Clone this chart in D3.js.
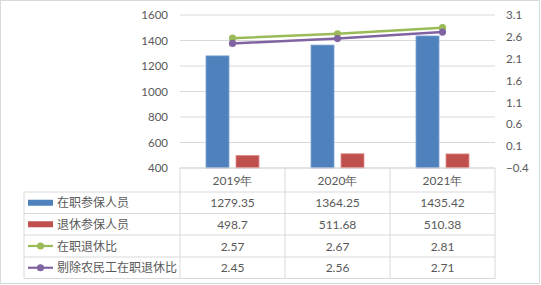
<!DOCTYPE html>
<html><head><meta charset="utf-8">
<script src="https://cdn.jsdelivr.net/npm/d3@7"></script>
<style>body{margin:0;background:#fff}svg{display:block}</style>
</head><body>
<svg id="c" width="541" height="285"></svg>
<script>
const categories = ["2019年", "2020年", "2021年"];
const seriesNames = ["在职参保人员", "退休参保人员", "在职退休比", "剔除农民工在职退休比"];
const active = [1279.35, 1364.25, 1435.42];
const retired = [498.7, 511.68, 510.38];
const ratio = [2.57, 2.67, 2.81];
const ratioExcl = [2.45, 2.56, 2.71];
const activeLabels = ["1279.35", "1364.25", "1435.42"];
const retiredLabels = ["498.7", "511.68", "510.38"];
const ratioLabels = ["2.57", "2.67", "2.81"];
const ratioExclLabels = ["2.45", "2.56", "2.71"];
const leftTicks = [400, 600, 800, 1000, 1200, 1400, 1600];
const rightTicks = [-0.4, 0.1, 0.6, 1.1, 1.6, 2.1, 2.6, 3.1];

const colors = ["#4F81BD", "#C0504D", "#9BBB59", "#8064A2"];
const txt = "#595959";
const numFont = "Lato, 'Open Sans', sans-serif";
const cjkFont = "'Noto Sans CJK SC', sans-serif";

const svg = d3.select("#c");
svg.append("rect").attr("x", 0.5).attr("y", 0.5).attr("width", 539).attr("height", 283)
  .attr("fill", "#fff").attr("stroke", "#D9D9D9");

const L = 180, R = 495, T = 15, B = 168;
const x = d3.scaleBand().domain(categories).range([L, R]);
const yL = d3.scaleLinear().domain([400, 1600]).range([B, T]);
const yR = d3.scaleLinear().domain([-0.4, 3.1]).range([B, T]);

// gridlines
svg.append("g").selectAll("line").data(leftTicks).join("line")
  .attr("x1", L).attr("x2", R).attr("y1", d => yL(d)).attr("y2", d => yL(d))
  .attr("stroke", "#D9D9D9").attr("stroke-width", 1);

// left axis
const ax = d3.axisLeft(yL).tickValues(leftTicks).tickSize(0).tickPadding(12).tickFormat(d3.format("d"));
const gL = svg.append("g").attr("transform", `translate(${L},0)`).call(ax);
gL.select(".domain").remove();
gL.selectAll("text").attr("fill", txt).style("font-family", numFont).style("font-size", "11.5px");

const axR = d3.axisRight(yR).tickValues(rightTicks).tickSize(0).tickPadding(11).tickFormat(d3.format(".1f"));
const gR = svg.append("g").attr("transform", `translate(${R},0)`).call(axR);
gR.select(".domain").remove();
gR.selectAll("text").attr("fill", txt).style("font-family", numFont).style("font-size", "11.5px");

// bars
const bw = 23, gap = 7;
const bars = [active, retired];
bars.forEach((arr, i) => {
  svg.append("g").selectAll("rect").data(arr).join("rect")
    .attr("x", (d, j) => x(categories[j]) + x.bandwidth() / 2 - bw - gap / 2 + i * (bw + gap))
    .attr("y", d => yL(d))
    .attr("width", bw)
    .attr("height", d => yL(400) - yL(d))
    .attr("fill", colors[i]).attr("stroke", i === 0 ? "#7FA3D1" : "#E0908D").attr("stroke-width", 0.8);
});

// lines
const lines = [ratio, ratioExcl];
lines.forEach((arr, i) => {
  const c = colors[2 + i];
  const line = d3.line().x((d, j) => x(categories[j]) + x.bandwidth() / 2).y(d => yR(d));
  svg.append("path").datum(arr).attr("d", line).attr("fill", "none").attr("stroke", c).attr("stroke-width", 2.5);
  svg.append("g").selectAll("circle").data(arr).join("circle")
    .attr("cx", (d, j) => x(categories[j]) + x.bandwidth() / 2).attr("cy", d => yR(d))
    .attr("r", 3.6).attr("fill", c);
});

// data table
const tL = 24;
const rowY = [168, 192, 213.5, 235, 257, 278.5];
const grid = svg.append("g").attr("stroke", "#D9D9D9").attr("stroke-width", 1).attr("fill", "none");
grid.append("line").attr("x1", L).attr("x2", R).attr("y1", rowY[0]).attr("y2", rowY[0]);
rowY.slice(1).forEach(y => grid.append("line").attr("x1", tL).attr("x2", R).attr("y1", y).attr("y2", y));
grid.append("line").attr("x1", tL).attr("x2", tL).attr("y1", rowY[1]).attr("y2", rowY[5]);
[L, x("2020年"), x("2021年"), R].forEach(v =>
  grid.append("line").attr("x1", v).attr("x2", v).attr("y1", rowY[0]).attr("y2", rowY[5]));

// header
svg.append("g").selectAll("text").data(categories).join("text")
  .attr("x", d => x(d) + x.bandwidth() / 2).attr("y", (rowY[0] + rowY[1]) / 2 + 4.5)
  .attr("text-anchor", "middle").attr("fill", txt)
  .style("font-family", numFont).style("font-size", "12px").text(d => d);

const rowsVals = [activeLabels, retiredLabels, ratioLabels, ratioExclLabels];
rowsVals.forEach((vals, r) => {
  const cy = (rowY[r + 1] + rowY[r + 2]) / 2;
  svg.append("g").selectAll("text").data(vals).join("text")
    .attr("x", (d, j) => x(categories[j]) + x.bandwidth() / 2).attr("y", cy + 4.5)
    .attr("text-anchor", "middle").attr("fill", txt)
    .style("font-family", numFont).style("font-size", "12px").text(d => d);
  if (r < 2) {
    svg.append("rect").attr("x", 28).attr("y", cy - 3).attr("width", 25).attr("height", 6).attr("fill", colors[r]);
  } else {
    svg.append("line").attr("x1", 28).attr("x2", 53).attr("y1", cy).attr("y2", cy)
      .attr("stroke", colors[r]).attr("stroke-width", 2.2);
    svg.append("circle").attr("cx", 40.5).attr("cy", cy).attr("r", 3.6).attr("fill", colors[r]);
  }
  svg.append("text").attr("x", 57).attr("y", cy + 4.5).attr("fill", txt)
    .style("font-family", cjkFont).style("font-size", "12px").text(seriesNames[r]);
});
</script>
</body></html>
